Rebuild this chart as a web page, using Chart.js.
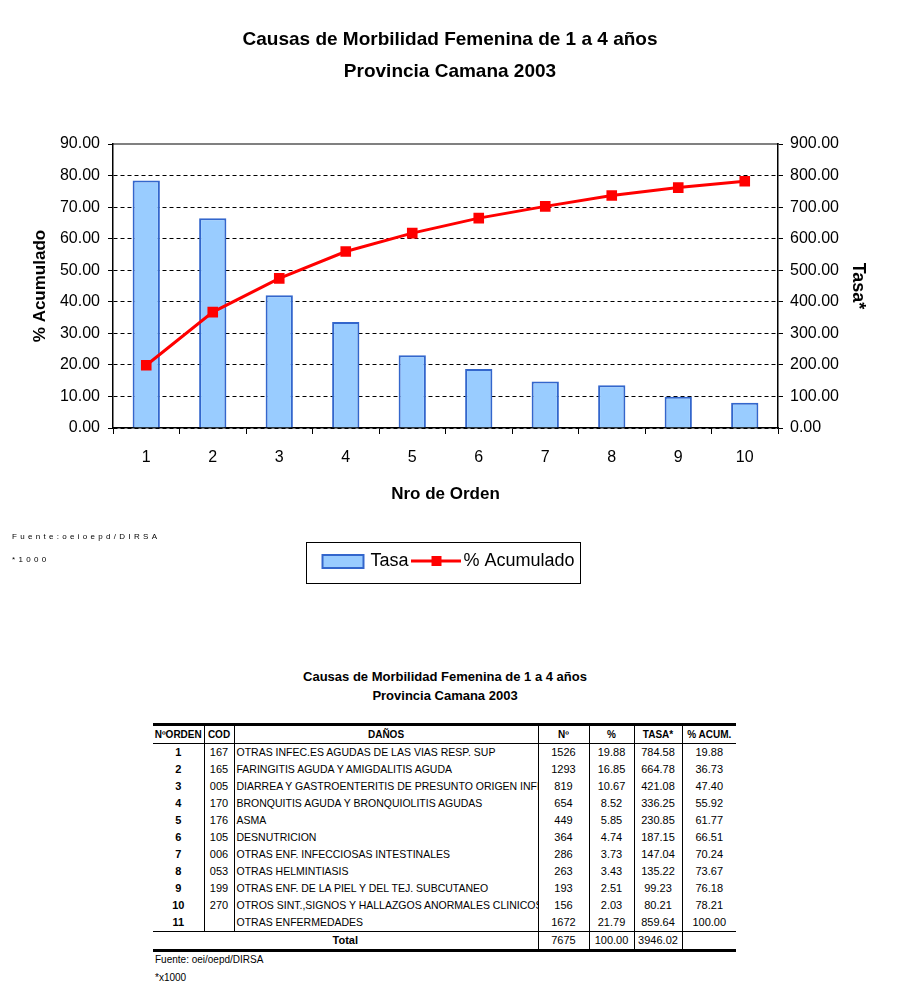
<!DOCTYPE html>
<html lang="es">
<head>
<meta charset="UTF-8">
<title>Causas de Morbilidad Femenina de 1 a 4 años</title>
<script src="https://cdn.jsdelivr.net/npm/chart.js@4.4.0/dist/chart.umd.min.js"></script>
<style>
    body { margin: 0; background: #fff; font-family: Arial, "Liberation Sans", sans-serif; color: #000; }
    #wrap { position: relative; width: 900px; height: 1000px; overflow: hidden; }
    #chart { position: absolute; left: 0; top: 0; }
    .note { position: absolute; left: 12px; font-size: 8px; letter-spacing: 3.3px; }
    #tbl-title { position: absolute; top: 667px; left: 0; width: 890px; text-align: center; font-weight: bold; font-size: 13px; line-height: 19px; }
    #tbl { position: absolute; top: 723px; left: 153px; width: 583px; border-collapse: collapse; table-layout: fixed; font-size: 11px; }
    #tbl th, #tbl td { height: 17px; padding: 0; white-space: nowrap; overflow: hidden; text-align: center; border-left: 1px solid #000; line-height: 17px; }
    #tbl th:first-child, #tbl td:first-child { border-left: none; }
    #tbl th { font-size: 10px; font-weight: bold; height: 17px; }
    #tbl thead tr { border-top: 3px solid #000; border-bottom: 1px solid #000; }
    #tbl td.b { font-weight: bold; }
    #tbl td.l { text-align: left; padding-left: 2px; font-size: 10.5px; }
    #tbl tr.last { border-bottom: 1px solid #000; }
    #tbl tr.total { border-bottom: 3px solid #000; }
    .foot { position: absolute; left: 155px; font-size: 10px; }
</style>
</head>
<body>
<div id="wrap">
    <canvas id="chart" width="900" height="600"></canvas>
    <div class="note" style="top: 532px;">Fuente:oeioepd/DIRSA</div>
    <div class="note" style="top: 555px;">*1000</div>

    <div id="tbl-title">Causas de Morbilidad Femenina de 1 a 4 años<br>Provincia Camana 2003</div>
    <table id="tbl">
        <colgroup>
            <col style="width:51px"><col style="width:30px"><col style="width:304px"><col style="width:51px">
            <col style="width:45px"><col style="width:48px"><col style="width:54px">
        </colgroup>
        <thead>
            <tr><th>NºORDEN</th><th>COD</th><th>DAÑOS</th><th>Nº</th><th>%</th><th>TASA*</th><th>% ACUM.</th></tr>
        </thead>
        <tbody id="rows"></tbody>
    </table>
    <div class="foot" style="top: 954px;">Fuente: oei/oepd/DIRSA</div>
    <div class="foot" style="top: 972px;">*x1000</div>
</div>

<script>
    // grafico
    var labels = ['1', '2', '3', '4', '5', '6', '7', '8', '9', '10'];
    var tasa = [784.58, 664.78, 421.08, 336.25, 230.85, 187.15, 147.04, 135.22, 99.23, 80.21];
    var acumulado = [19.88, 36.73, 47.40, 55.92, 61.77, 66.51, 70.24, 73.67, 76.18, 78.21];

    // tabla
    var orden = [1, 2, 3, 4, 5, 6, 7, 8, 9, 10, 11];
    var cod = ['167', '165', '005', '170', '176', '105', '006', '053', '199', '270', ''];
    var danos = [
        'OTRAS INFEC.ES AGUDAS DE LAS VIAS RESP. SUP',
        'FARINGITIS AGUDA Y AMIGDALITIS AGUDA',
        'DIARREA Y GASTROENTERITIS DE PRESUNTO ORIGEN INFECCIOSO',
        'BRONQUITIS AGUDA Y BRONQUIOLITIS AGUDAS',
        'ASMA',
        'DESNUTRICION',
        'OTRAS ENF. INFECCIOSAS INTESTINALES',
        'OTRAS HELMINTIASIS',
        'OTRAS ENF. DE LA PIEL Y DEL TEJ. SUBCUTANEO',
        'OTROS SINT.,SIGNOS Y HALLAZGOS ANORMALES CLINICOS',
        'OTRAS ENFERMEDADES'
    ];
    var casos = [1526, 1293, 819, 654, 449, 364, 286, 263, 193, 156, 1672];
    var porc = [19.88, 16.85, 10.67, 8.52, 5.85, 4.74, 3.73, 3.43, 2.51, 2.03, 21.79];
    var tasaTabla = tasa.concat([859.64]);
    var acumTabla = acumulado.concat([100.00]);
    var totales = ['7675', '100.00', '3946.02', ''];

    var rows = document.getElementById('rows');
    for (var i = 0; i < orden.length; i++) {
        var tr = document.createElement('tr');
        if (i == orden.length - 1) tr.className = 'last';
        tr.innerHTML = '<td class="b">' + orden[i] + '</td><td>' + cod[i] + '</td><td class="l">' + danos[i] +
            '</td><td>' + casos[i] + '</td><td>' + porc[i].toFixed(2) + '</td><td>' + tasaTabla[i].toFixed(2) +
            '</td><td>' + acumTabla[i].toFixed(2) + '</td>';
        rows.appendChild(tr);
    }
    var tot = document.createElement('tr');
    tot.className = 'total';
    var html = '<td colspan="3" class="b" style="font-size:11px">Total</td>';
    for (var j = 0; j < totales.length; j++) html += '<td>' + totales[j] + '</td>';
    tot.innerHTML = html;
    rows.appendChild(tot);

    // iconos de la leyenda
    function legendIcon(kind) {
        var c = document.createElement('canvas');
        c.width = 50;
        c.height = 16;
        var g = c.getContext('2d');
        if (kind == 'bar') {
            g.fillStyle = '#99ccff';
            g.fillRect(4, 2, 41, 13);
            g.strokeStyle = '#3366cc';
            g.lineWidth = 2;
            g.strokeRect(4, 2, 41, 13);
        } else {
            g.strokeStyle = '#ff0000';
            g.lineWidth = 3;
            g.beginPath();
            g.moveTo(0, 8);
            g.lineTo(50, 8);
            g.stroke();
            g.fillStyle = '#ff0000';
            g.fillRect(20, 3, 10, 10);
        }
        return c;
    }

    var legendFrame = {
        id: 'legendFrame',
        afterDraw: function (chart) {
            var boxes = chart.legend.legendHitBoxes;
            if (!boxes || !boxes.length) return;
            var first = boxes[0], last = boxes[boxes.length - 1];
            var ctx = chart.ctx;
            ctx.save();
            ctx.strokeStyle = '#000';
            ctx.lineWidth = 1;
            ctx.strokeRect(Math.round(first.left - 19) + 0.5, Math.round(first.top - 10) + 0.5,
                Math.round(last.left + last.width - first.left + 25), 41);
            ctx.restore();
        }
    };

    Chart.defaults.font.family = 'Arial, "Liberation Sans", sans-serif';
    Chart.defaults.color = '#000';

    var fmt = function (v) { return Number(v).toFixed(2); };

    new Chart(document.getElementById('chart').getContext('2d'), {
        type: 'bar',
        data: {
            labels: labels,
            datasets: [{
                type: 'line',
                label: '% Acumulado',
                data: acumulado,
                yAxisID: 'y',
                borderColor: '#ff0000',
                backgroundColor: '#ff0000',
                borderWidth: 3,
                pointStyle: 'rect',
                pointRadius: 7.5,
                pointBorderWidth: 0,
                tension: 0,
                order: 1
            }, {
                type: 'bar',
                label: 'Tasa',
                data: tasa,
                yAxisID: 'y1',
                backgroundColor: '#99ccff',
                borderColor: '#3366cc',
                borderWidth: 2,
                barPercentage: 0.41,
                categoryPercentage: 1,
                order: 2
            }]
        },
        options: {
            responsive: false,
            animation: false,
            layout: { padding: { top: 0, left: 0, right: 0, bottom: 20 } },
            plugins: {
                tooltip: { enabled: false },
                title: {
                    display: true,
                    text: ['Causas de Morbilidad Femenina de 1 a 4 años', 'Provincia Camana 2003'],
                    color: '#000',
                    font: { size: 19, weight: 'bold', lineHeight: 32 / 19 },
                    padding: { top: 24, bottom: 56 }
                },
                legend: {
                    position: 'bottom',
                    labels: {
                        usePointStyle: true,
                        pointStyleWidth: 36,
                        boxHeight: 18,
                        padding: 10,
                        color: '#000',
                        font: { size: 18 },
                        generateLabels: function () {
                            return [
                                { text: 'Tasa', pointStyle: legendIcon('bar'), fontColor: '#000', hidden: false, datasetIndex: 1, lineWidth: 0 },
                                { text: '% Acumulado', pointStyle: legendIcon('line'), fontColor: '#000', hidden: false, datasetIndex: 0, lineWidth: 0 }
                            ];
                        }
                    }
                }
            },
            scales: {
                x: {
                    grid: { display: true, drawOnChartArea: false, color: '#000', tickLength: 6, offset: true },
                    border: { color: '#000', width: 1.5 },
                    ticks: { color: '#000', font: { size: 16 }, padding: 14 },
                    title: { display: true, text: 'Nro de Orden', color: '#000', font: { size: 17, weight: 'bold' }, padding: { top: 0, bottom: 37 } },
                    afterFit: function (s) { s.height = 114; }
                },
                xTop: {
                    type: 'category',
                    position: 'top',
                    grid: { display: false, drawTicks: false, tickLength: 0 },
                    ticks: { display: false },
                    border: { color: '#808080', width: 2 },
                    afterFit: function (s) { s.height = 0; }
                },
                y: {
                    position: 'left',
                    min: 0,
                    max: 90,
                    ticks: { stepSize: 10, callback: fmt, color: '#000', font: { size: 16 }, padding: 8 },
                    grid: {
                        color: function (c) { return c.tick && c.tick.value == 90 ? 'rgba(0,0,0,0)' : '#000'; },
                        tickColor: '#000',
                        tickLength: 5,
                        lineWidth: 1
                    },
                    border: { color: '#000', width: 1.5, dash: [4, 3] },
                    title: { display: true, text: '% Acumulado', color: '#000', font: { size: 17, weight: 'bold' }, padding: { top: 30, bottom: 0 } },
                    afterFit: function (s) { s.width = 113; }
                },
                y1: {
                    position: 'right',
                    min: 0,
                    max: 900,
                    ticks: { stepSize: 100, callback: fmt, color: '#000', font: { size: 16 }, padding: 7 },
                    grid: { drawOnChartArea: false, color: '#000', tickLength: 5 },
                    border: { color: '#000', width: 1.5 },
                    title: { display: true, text: 'Tasa*', color: '#000', font: { size: 18, weight: 'bold' }, padding: { top: 31, bottom: 0 } },
                    afterFit: function (s) { s.width = 122; }
                }
            }
        },
        plugins: [legendFrame]
    });
</script>
</body>
</html>
